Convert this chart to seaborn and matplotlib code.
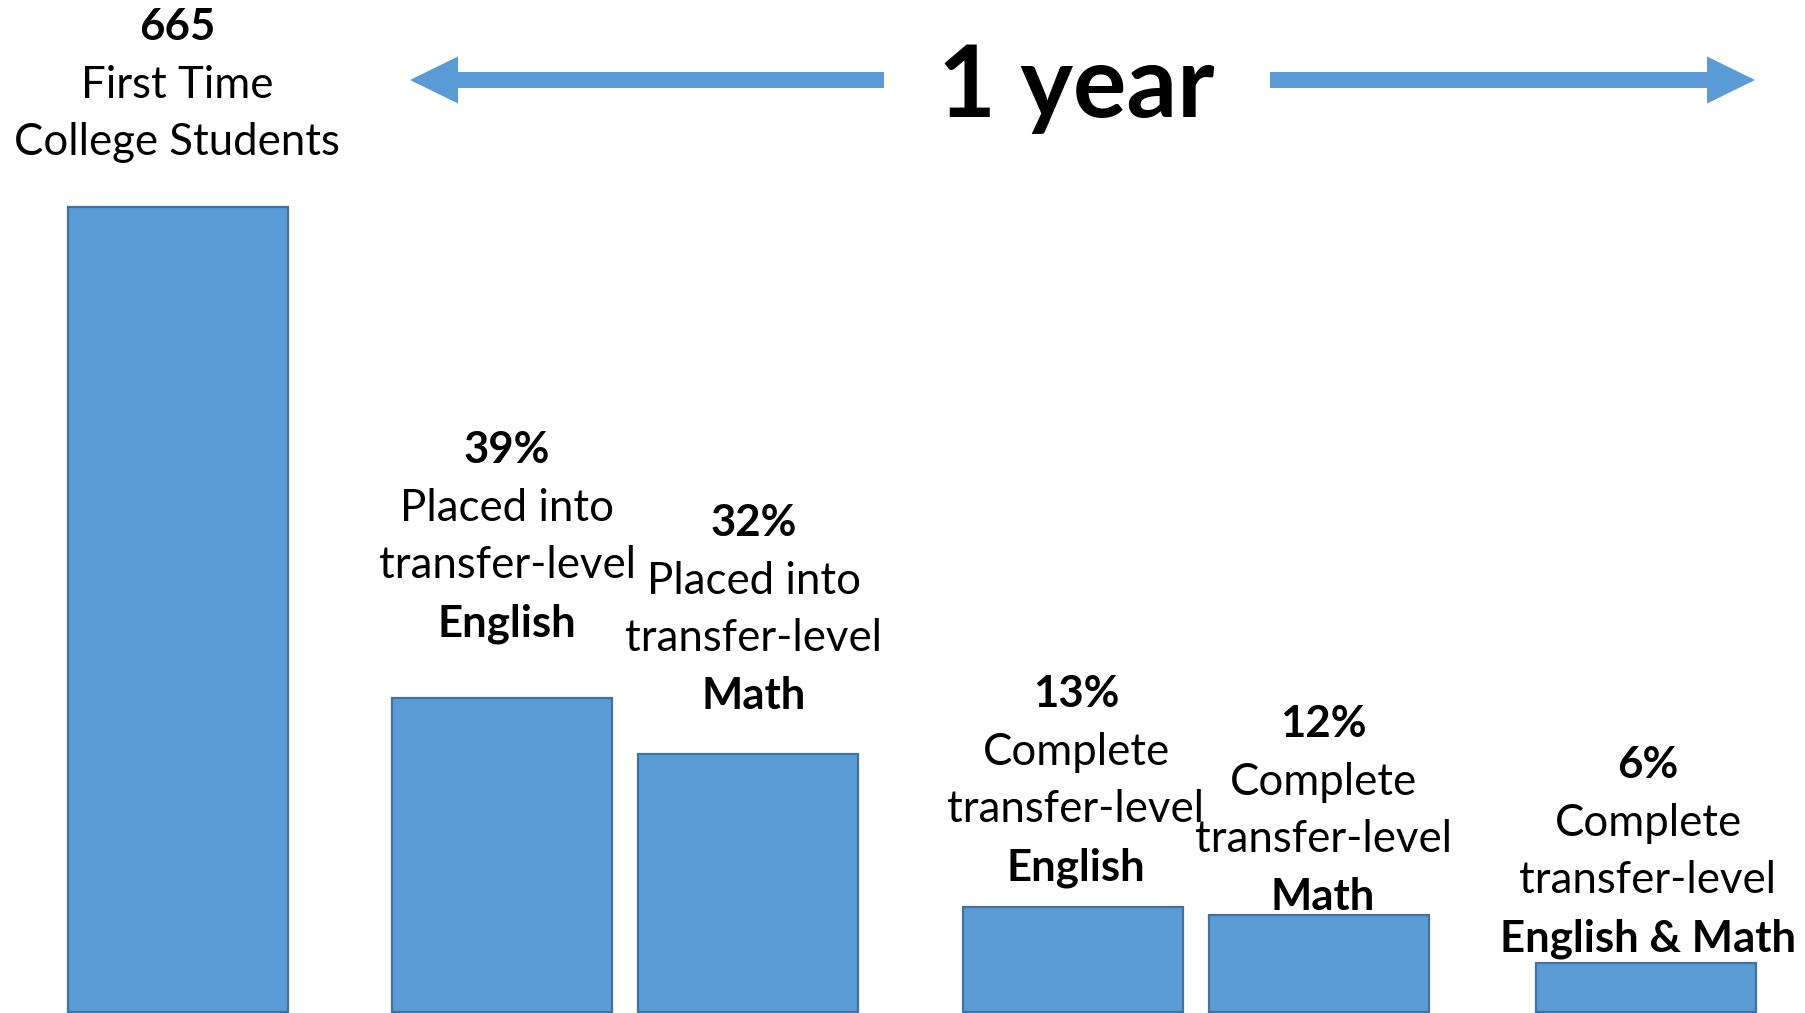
import matplotlib
matplotlib.use("Agg")
import matplotlib.pyplot as plt
import numpy as np
import pandas as pd
import seaborn as sns
from matplotlib.patches import FancyArrow
from matplotlib.transforms import IdentityTransform, blended_transform_factory

# ---- data ---------------------------------------------------------------
cohort_size = 665
stages = [
    "First Time College Students",
    "Placed into transfer-level English",
    "Placed into transfer-level Math",
    "Complete transfer-level English",
    "Complete transfer-level Math",
    "Complete transfer-level English & Math",
]
share_pct = [100, 39, 32, 13, 12, 6]
descriptions = [
    ["First Time", "College Students"],
    ["Placed into", "transfer-level"],
    ["Placed into", "transfer-level"],
    ["Complete", "transfer-level"],
    ["Complete", "transfer-level"],
    ["Complete", "transfer-level"],
]
subjects = ["", "English", "Math", "English", "Math", "English & Math"]
span_label = "1 year"

# ---- layout ---------------------------------------------------------------
W, H, DPI = 1805, 1013, 100
bar_centers = [178, 502, 748, 1073, 1319, 1646]      # x positions (px units)
label_x = [177, 507, 754, 1076, 1323, 1648]          # label block centres
label_first_line = [25, 448, 521, 692, 722, 763]     # centre of first label line, px from top
line_step = 57.7
BLUE = "#5B9BD5"
EDGE = "#41719C"

sns.set_theme(style="white")
plt.rcParams["font.family"] = ["Lato", "DejaVu Sans"]

fig = plt.figure(figsize=(W / DPI, H / DPI), dpi=DPI)
ax = fig.add_axes([0, 0, 1, 1])

df = pd.DataFrame({"x": bar_centers, "share": share_pct, "stage": stages})
sns.barplot(
    data=df, x="x", y="share", native_scale=True, width=220 / 246,
    color=BLUE, saturation=1, edgecolor=EDGE, linewidth=1.6, ax=ax,
)

px_per_unit = (1011.5 - 207) / 100.0
ax.set_xlim(0, W)
ax.set_ylim(-1.5 / px_per_unit, 100 + 207 / px_per_unit)
ax.set_axis_off()

# ---- labels above bars ----------------------------------------------------
tr = blended_transform_factory(ax.transData, IdentityTransform())
headlines = [str(cohort_size)] + [f"{v}%" for v in share_pct[1:]]
FS = 31.5
for i, xc in enumerate(label_x):
    lines = [(headlines[i], "bold")] + [(t, "normal") for t in descriptions[i]]
    if subjects[i]:
        lines.append((subjects[i], "bold"))
    for k, (txt, wt) in enumerate(lines):
        y_center = label_first_line[i] + k * line_step
        ax.text(xc, H - (y_center + 15), txt, transform=tr, ha="center",
                va="baseline", fontsize=FS, fontweight=wt, color="black")

# ---- time-span arrows -----------------------------------------------------
pix = IdentityTransform()
arrow_y = H - 80
for x0, x1 in [(884, 410), (1270, 1755)]:
    arr = FancyArrow(x0, arrow_y, x1 - x0, 0, width=16, head_width=47,
                     head_length=48, length_includes_head=True,
                     color=BLUE, lw=0, transform=pix)
    fig.patches.append(arr)
    arr.set_figure(fig)

fig.text(1076, H - 117, span_label, transform=pix, ha="center", va="baseline",
         fontsize=72, fontweight="bold", color="black")

fig.savefig("out.png", dpi=DPI, facecolor="white")
